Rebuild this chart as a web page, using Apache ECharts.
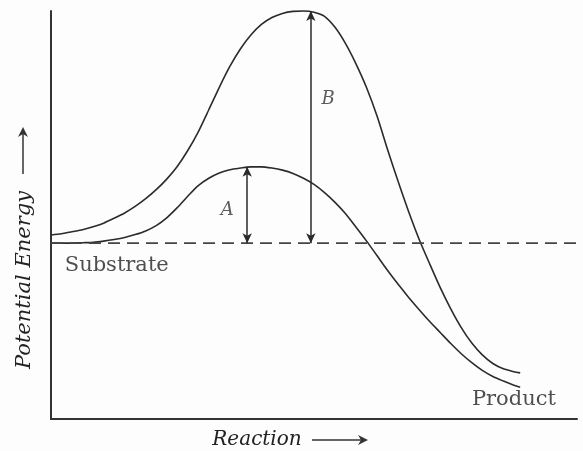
<!DOCTYPE html>
<html><head><meta charset="utf-8">
<script src="https://cdn.jsdelivr.net/npm/echarts@6/dist/echarts.min.js"></script>
<style>html,body{margin:0;padding:0;background:#fdfdfd}#c{width:583px;height:451px}</style>
</head><body><div id="c"></div>
<script>
// Reaction progress (0-100) and potential energy (0-100)
const upperX = [0, 2, 4, 6, 8, 10, 12, 14, 16, 18, 20, 22, 24, 26, 28, 30, 32, 34, 36, 38, 40, 42, 44, 46, 48, 50, 52, 54, 56, 58, 60, 62, 64, 66, 68, 70, 72, 74, 76, 78, 80, 82, 84, 86, 88, 89.2];
const upperY = [45.1, 45.4, 45.9, 46.4, 47.1, 48.0, 49.2, 50.5, 52.1, 54.0, 56.2, 58.8, 61.9, 65.8, 70.4, 75.8, 81.3, 86.4, 90.7, 94.1, 96.7, 98.4, 99.4, 99.9, 100, 99.7, 98.7, 96.0, 92.0, 87.0, 81.2, 74.2, 66.0, 58.2, 50.8, 44.0, 38.0, 32.2, 27.0, 22.4, 18.6, 15.7, 13.6, 12.3, 11.6, 11.3];
const lowerX = [0, 2, 4, 6, 8, 10, 12, 14, 16, 18, 20, 22, 24, 26, 28, 30, 32, 34, 36, 38, 40, 42, 44, 46, 48, 50, 52, 54, 56, 58, 60, 62, 64, 66, 68, 70, 72, 74, 76, 78, 80, 82, 84, 86, 88, 89.2];
const lowerY = [43.1, 43.1, 43.1, 43.2, 43.3, 43.6, 44.0, 44.5, 45.2, 46.1, 47.4, 49.3, 51.8, 54.6, 57.2, 59.0, 60.3, 61.1, 61.5, 61.8, 61.8, 61.5, 61.0, 60.2, 59.0, 57.5, 55.5, 53.1, 50.3, 47.0, 43.6, 40.0, 36.4, 33.0, 29.8, 26.8, 23.9, 21.2, 18.5, 16.0, 13.8, 11.9, 10.4, 9.3, 8.3, 7.8];
const substrateLevel = 43.1;
const dashedX = [0, 101.1];
const arrowA = {x: 37.3, from: 43.1, to: 61.8};
const arrowB = {x: 49.4, from: 43.1, to: 100};
const labelNames = ['A', 'B'];
const labelPos = [[33.5, 51.2], [52.7, 78.4]];
const tagNames = ['Substrate', 'Product'];
const tagPos = [[12.5, 37.7], [88, 4.7]];
const xTitle = 'Reaction';
const yTitle = 'Potential Energy';

const ink = '#2b2b2b';
const chart = echarts.init(document.getElementById('c'), null, {renderer: 'canvas'});
const zip = (xs, ys) => xs.map((x, i) => [x, ys[i]]);

chart.setOption({
  backgroundColor: '#fdfdfd',
  animation: false,
  grid: {left: 51, right: 6, top: 11, bottom: 32},
  xAxis: {type: 'value', min: 0, max: 100, axisLine: {show: true, lineStyle: {color: '#333', width: 2}},
    axisTick: {show: false}, axisLabel: {show: false}, splitLine: {show: false}},
  yAxis: {type: 'value', min: 0, max: 100, axisLine: {show: true, lineStyle: {color: '#333', width: 2}},
    axisTick: {show: false}, axisLabel: {show: false}, splitLine: {show: false}},
  series: [
    {type: 'line', data: zip(upperX, upperY), smooth: 0.25, symbol: 'none', clip: false,
      lineStyle: {color: ink, width: 1.6}},
    {type: 'line', data: zip(lowerX, lowerY), smooth: 0.25, symbol: 'none', clip: false,
      lineStyle: {color: ink, width: 1.6}},
    {type: 'line', data: dashedX.map(x => [x, substrateLevel]), symbol: 'none', clip: false,
      lineStyle: {color: '#444', width: 1.6, type: [12, 7]},
      markLine: {silent: true, symbol: ['arrow', 'arrow'], symbolSize: [7, 10], label: {show: false},
        lineStyle: {color: ink, width: 1.5, type: 'solid'},
        data: [
          [{coord: [arrowA.x, arrowA.from]}, {coord: [arrowA.x, arrowA.to]}],
          [{coord: [arrowB.x, arrowB.from]}, {coord: [arrowB.x, arrowB.to]}]
        ]}},
    {type: 'scatter', symbolSize: 0, silent: true,
      data: labelPos.map((p, i) => ({value: p, name: labelNames[i]})),
      label: {show: true, position: 'inside', formatter: p => p.name, color: '#333',
        fontFamily: 'DejaVu Serif', fontStyle: 'italic', fontSize: 18}},
    {type: 'scatter', symbolSize: 0, silent: true,
      data: tagPos.map((p, i) => ({value: p, name: tagNames[i]})),
      label: {show: true, position: 'inside', formatter: p => p.name, color: '#222',
        fontFamily: 'DejaVu Serif', fontSize: 21}}
  ],
  graphic: [
    {type: 'text', x: 257, y: 440, style: {text: xTitle, fill: '#222', font: 'italic 20px "DejaVu Serif"',
      align: 'center', verticalAlign: 'middle'}},
    {type: 'line', shape: {x1: 312, y1: 440, x2: 366, y2: 440}, style: {stroke: '#333', lineWidth: 1.5}},
    {type: 'polygon', shape: {points: [[368, 440], [358, 435], [361, 440], [358, 445]]}, style: {fill: '#333'}},
    {type: 'text', x: 25, y: 280, rotation: Math.PI / 2, style: {text: yTitle, fill: '#222',
      font: 'italic 21px "DejaVu Serif"', align: 'center', verticalAlign: 'middle'}},
    {type: 'line', shape: {x1: 23, y1: 174, x2: 23, y2: 130}, style: {stroke: '#333', lineWidth: 1.5}},
    {type: 'polygon', shape: {points: [[23, 127], [18, 137], [23, 134], [28, 137]]}, style: {fill: '#333'}}
  ]
});
</script></body></html>
